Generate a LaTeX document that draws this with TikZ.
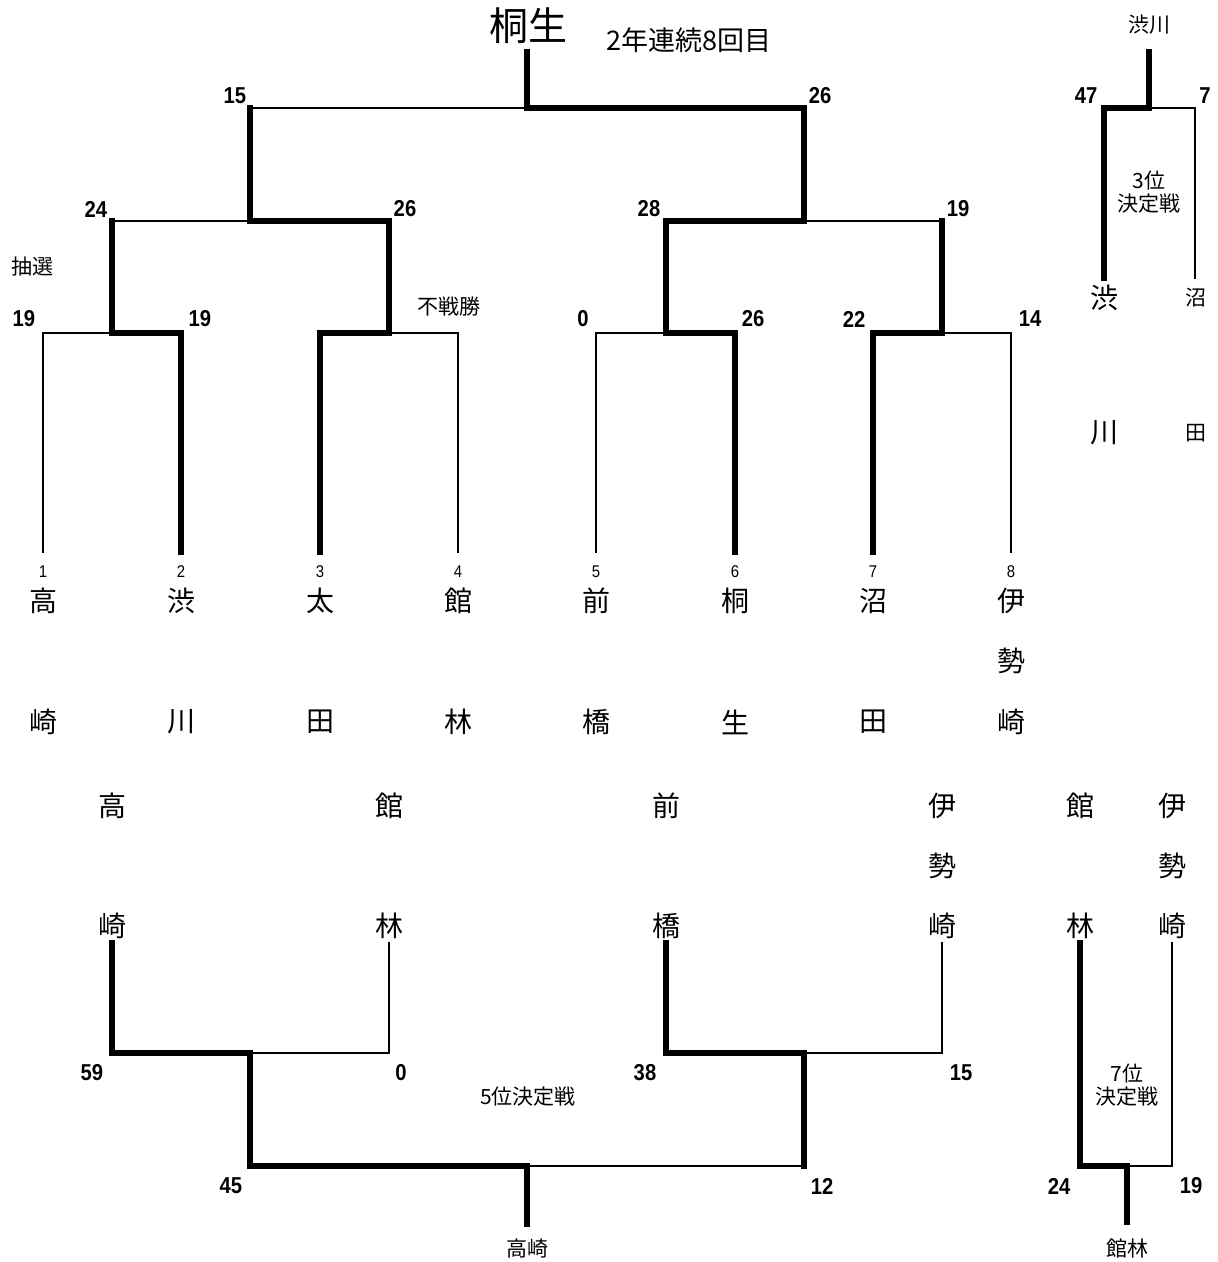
\documentclass[tikz,border=0pt]{standalone}
\usepackage{fontspec}
\setmainfont{Noto Sans CJK JP}
\newfontfamily\scorefont[FakeStretch=0.88]{Liberation Sans}
\usepackage{tikz}

\begin{document}
\begin{tikzpicture}[%
      x=1pt,y=-1pt,
      win/.style={line width=6pt,line join=miter,line cap=rect},
      lose/.style={line width=1.4pt,line cap=rect},
      team/.style={font=\fontsize{28}{28}\selectfont,inner sep=0pt},
      seed/.style={font=\scorefont\fontsize{17}{17}\selectfont,inner sep=0pt},
      score/.style={font=\scorefont\bfseries\fontsize{23}{23}\selectfont,inner sep=0pt},
      note/.style={font=\fontsize{21}{23}\selectfont,inner sep=0pt,align=center},
      ]
      \useasboundingbox (0,0) rectangle (1218,1262);

      \node[inner sep=0pt,font=\fontsize{39}{39}\selectfont] (champ) at (528,26) {桐生};
      \node[inner sep=0pt,font=\fontsize{27}{27}\selectfont] (times) at (689,40) {2年連続8回目};

      \coordinate (l1) at (43,552);
      \coordinate (l2) at (181,552);
      \coordinate (l3) at (320,552);
      \coordinate (l4) at (458,552);
      \coordinate (l5) at (596,552);
      \coordinate (l6) at (735,552);
      \coordinate (l7) at (873,552);
      \coordinate (l8) at (1011,552);
      \coordinate (q1) at (112,333);
      \coordinate (q2) at (389,333);
      \coordinate (q3) at (666,333);
      \coordinate (q4) at (942,333);
      \coordinate (h1) at (250,221);
      \coordinate (h2) at (804,221);
      \coordinate (f) at (527,108);
      \coordinate (top) at (527,52);

      \draw[lose] (l1) |- (q1);
      \draw[lose] (l4) |- (q2);
      \draw[lose] (l5) |- (q3);
      \draw[lose] (l8) |- (q4);
      \draw[lose] (q1 |- h1) -- (h1);
      \draw[lose] (h2) -- (q4 |- h2);
      \draw[lose] (h1 |- f) -- (f);
      \draw[win] (l2) |- (q1) -- (q1 |- h1);
      \draw[win] (l7) |- (q4) -- (q4 |- h2);
      \draw[win] (l3) |- (q2) |- (h1) -- (h1 |- f);
      \draw[win] (l6) |- (q3) |- (h2) |- (f) -- (top);

      \node[score] (s15) at (235,96) {15};
      \node[score] (s26a) at (820,96) {26};
      \node[score] (s24) at (96,209) {24};
      \node[score] (s26b) at (405,209) {26};
      \node[score] (s28) at (649,209) {28};
      \node[score] (s19a) at (958,209) {19};
      \node[score] (s19b) at (24,319) {19};
      \node[score] (s19c) at (200,319) {19};
      \node[score] (s0a) at (583,319) {0};
      \node[score] (s26c) at (753,319) {26};
      \node[score] (s22) at (854,319) {22};
      \node[score] (s14) at (1030,319) {14};

      \node[note] (lot) at (33,267) {抽選};
      \node[note] (bye) at (449,307) {不戦勝};

      \node[seed] (n1) at (43,572) {1};
      \node[seed] (n2) at (181,572) {2};
      \node[seed] (n3) at (320,572) {3};
      \node[seed] (n4) at (458,572) {4};
      \node[seed] (n5) at (596,572) {5};
      \node[seed] (n6) at (735,572) {6};
      \node[seed] (n7) at (873,572) {7};
      \node[seed] (n8) at (1011,572) {8};

      \node[team] (takasakiA) at (43,601) {高};
      \node[team] (takasakiB) at (43,722) {崎};
      \node[team] (shibukawaA) at (181,601) {渋};
      \node[team] (shibukawaB) at (181,722) {川};
      \node[team] (ootaA) at (320,601) {太};
      \node[team] (ootaB) at (320,722) {田};
      \node[team] (tatebayashiA) at (458,601) {館};
      \node[team] (tatebayashiB) at (458,722) {林};
      \node[team] (maebashiA) at (596,601) {前};
      \node[team] (maebashiB) at (596,722) {橋};
      \node[team] (kiryuA) at (735,601) {桐};
      \node[team] (kiryuB) at (735,722) {生};
      \node[team] (numataA) at (873,601) {沼};
      \node[team] (numataB) at (873,722) {田};
      \node[team] (isesakiA) at (1011,601) {伊};
      \node[team] (isesakiB) at (1011,661) {勢};
      \node[team] (isesakiC) at (1011,722) {崎};

      \node[note] (third) at (1149,25) {渋川};
      \coordinate (t1) at (1104,278);
      \coordinate (t2) at (1195,278);
      \coordinate (tf) at (1149,108);
      \coordinate (ttop) at (1149,52);
      \draw[lose] (t2) |- (tf);
      \draw[win] (t1) |- (tf) -- (ttop);
      \node[score] (s47) at (1086,96) {47};
      \node[score] (s7a) at (1205,96) {7};
      \node[note] (thirdlbl) at (1149,192) {3位\\決定戦};
      \node[team] (shibuA) at (1104,298) {渋};
      \node[team] (shibuB) at (1104,433) {川};
      \node[note] (numaA) at (1196,298) {沼};
      \node[note] (numaB) at (1196,433) {田};

      \node[team] (ctakasakiA) at (112,806) {高};
      \node[team] (ctakasakiB) at (112,926) {崎};
      \node[team] (ctatebayashiA) at (389,806) {館};
      \node[team] (ctatebayashiB) at (389,926) {林};
      \node[team] (cmaebashiA) at (666,806) {前};
      \node[team] (cmaebashiB) at (666,926) {橋};
      \node[team] (cisesakiA) at (942,806) {伊};
      \node[team] (cisesakiB) at (942,866) {勢};
      \node[team] (cisesakiC) at (942,926) {崎};

      \coordinate (c1) at (112,943);
      \coordinate (c2) at (389,943);
      \coordinate (c3) at (666,943);
      \coordinate (c4) at (942,943);
      \coordinate (d1) at (250,1053);
      \coordinate (d2) at (804,1053);
      \coordinate (cf) at (527,1166);
      \coordinate (cbot) at (527,1224);
      \draw[lose] (c2) |- (d1);
      \draw[lose] (c4) |- (d2);
      \draw[lose] (d2 |- cf) -- (cf);
      \draw[win] (c3) |- (d2) -- (d2 |- cf);
      \draw[win] (c1) |- (d1) |- (cf) -- (cbot);
      \node[score] (s59) at (92,1073) {59};
      \node[score] (s0b) at (401,1073) {0};
      \node[score] (s38) at (645,1073) {38};
      \node[score] (s15b) at (961,1073) {15};
      \node[score] (s45) at (231,1186) {45};
      \node[score] (s12) at (822,1186) {12};
      \node[note] (fifthlbl) at (528,1097) {5位決定戦};
      \node[note] (fifth) at (527,1248) {高崎};

      \node[team] (statebayashiA) at (1080,806) {館};
      \node[team] (statebayashiB) at (1080,926) {林};
      \node[team] (sisesakiA) at (1172,806) {伊};
      \node[team] (sisesakiB) at (1172,866) {勢};
      \node[team] (sisesakiC) at (1172,926) {崎};
      \coordinate (e1) at (1080,943);
      \coordinate (e2) at (1172,943);
      \coordinate (ef) at (1127,1166);
      \coordinate (ebot) at (1127,1222);
      \draw[lose] (e2) |- (ef);
      \draw[win] (e1) |- (ef) -- (ebot);
      \node[score] (s24b) at (1059,1186) {24};
      \node[score] (s19d) at (1191,1186) {19};
      \node[note] (seventhlbl) at (1127,1085) {7位\\決定戦};
      \node[note] (seventh) at (1127,1248) {館林};
\end{tikzpicture}
\end{document}
